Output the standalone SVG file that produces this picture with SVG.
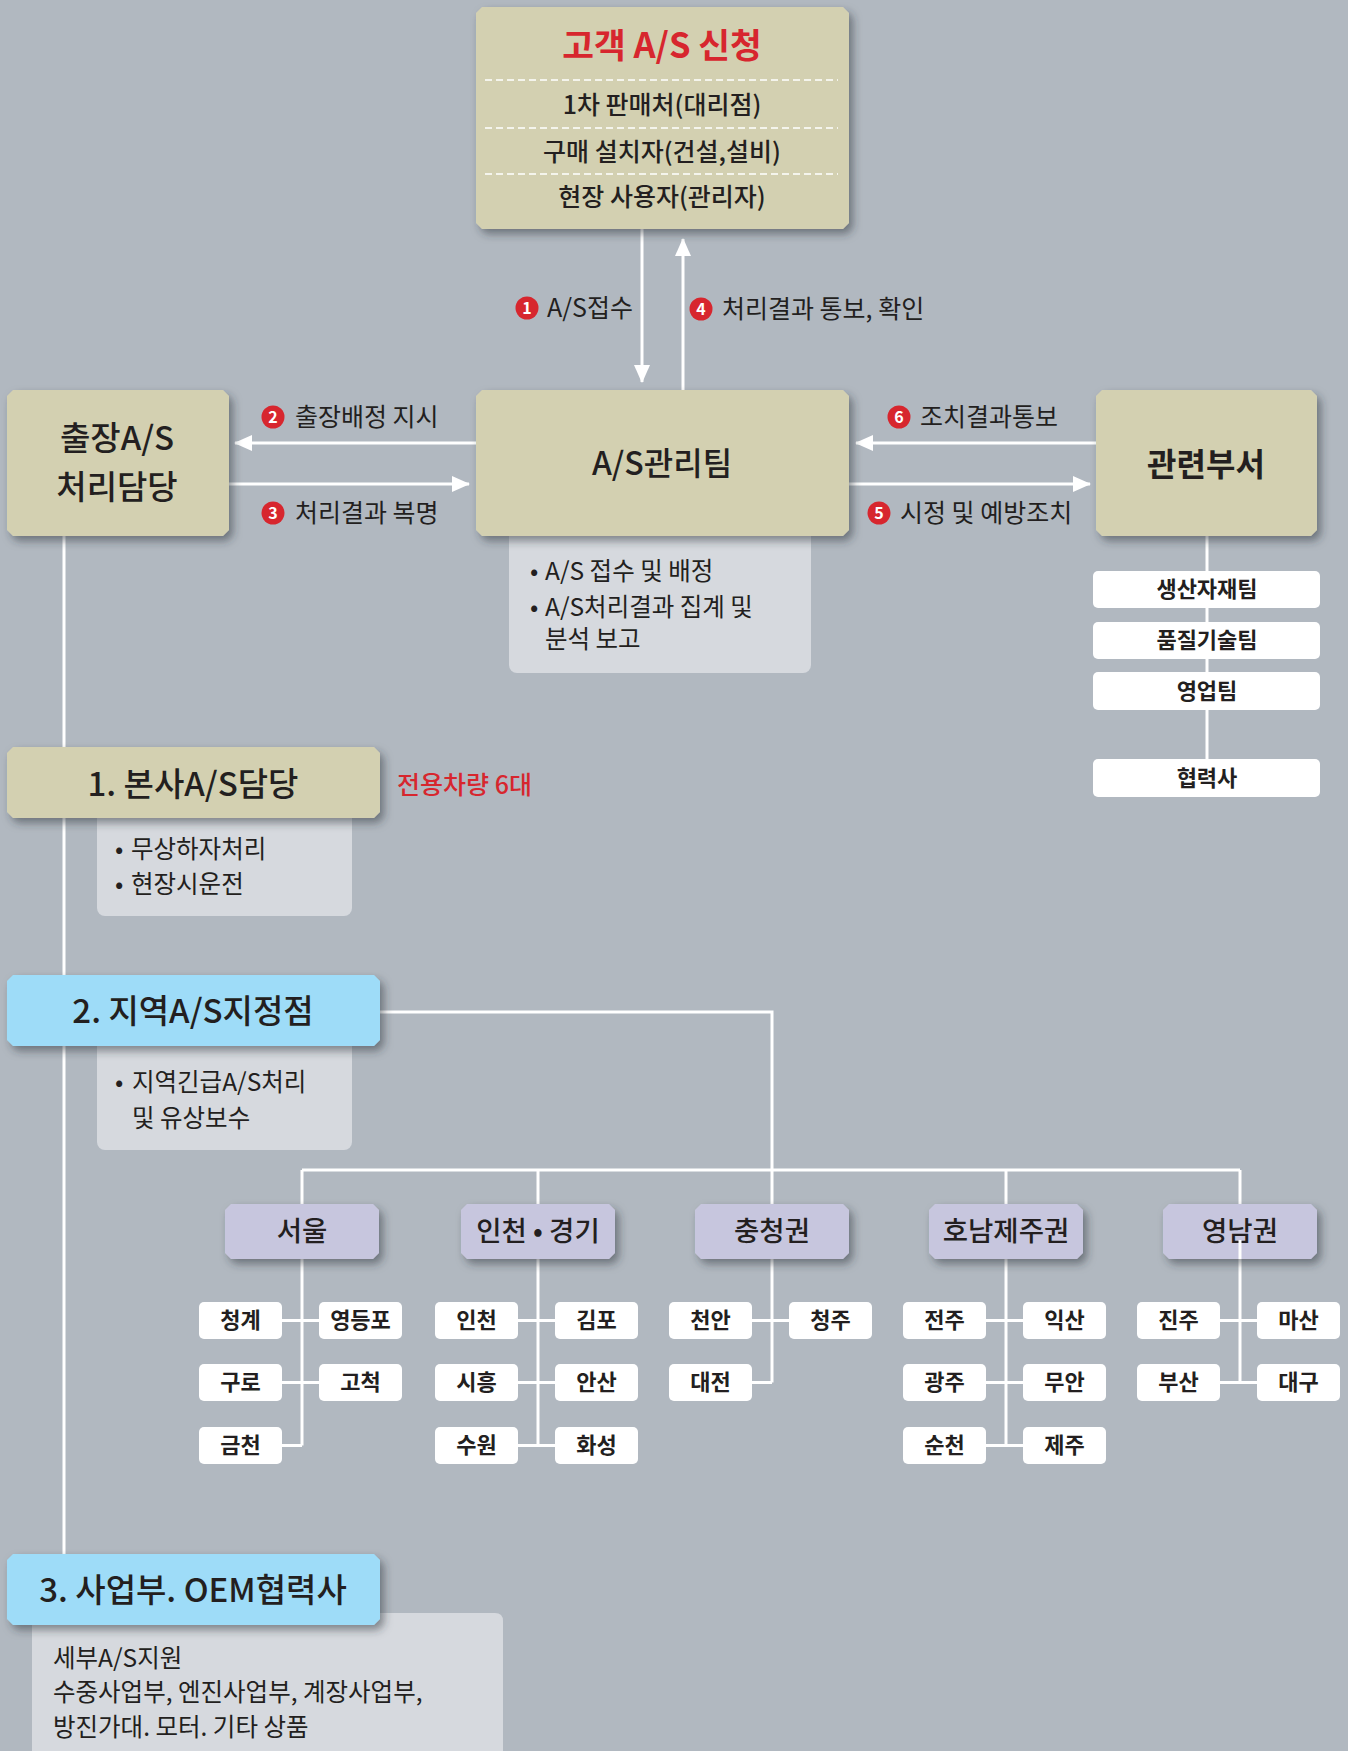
<svg xmlns="http://www.w3.org/2000/svg" width="1348" height="1751" viewBox="0 0 1348 1751">
<style>
text{font-family:"Noto Sans CJK KR","Noto Sans",sans-serif;fill:#231f20}
.hd{font-size:33px;font-weight:500;text-anchor:middle}
.hm{font-size:32px;font-weight:500;text-anchor:middle}
.hb{font-size:32px;font-weight:700;text-anchor:middle}
.lbl{font-size:25px}
.num{font-size:16px;font-weight:700;fill:#fff;text-anchor:middle}
.note{font-size:24.5px}
.sub{font-size:22px;font-weight:700;text-anchor:middle}
.reg{font-size:27.5px;font-weight:500;text-anchor:middle}
.top{font-size:25px;font-weight:500;text-anchor:middle}
.beige{fill:#d3d0b1;filter:url(#sh)}
.blue{fill:#9edcf8;filter:url(#sh)}
.lav{fill:#c7c6de;filter:url(#sh)}
.gnote{fill:#d6d9de}
.wbox{fill:#fff}
.ln{stroke:#fff;stroke-width:3;fill:none}
.dash{stroke:#fff;stroke-width:1.6;stroke-dasharray:7 4}
.circ{fill:#d7262e}
</style>
<defs>
<filter id="sh" x="-10%" y="-15%" width="125%" height="150%">
<feDropShadow dx="4" dy="5" stdDeviation="4" flood-color="#2a2f36" flood-opacity="0.5"/>
</filter>
<marker id="ah" markerUnits="userSpaceOnUse" markerWidth="18" markerHeight="16" refX="17" refY="8" orient="auto">
<path d="M0,0 L18,8 L0,16 Z" fill="#fff"/>
</marker>
</defs>
<rect x="0" y="0" width="1348" height="1751" fill="#b1b8c0"/>

<g id="connectors">
<line class="ln" x1="642" y1="229" x2="642" y2="382" marker-end="url(#ah)"/>
<line class="ln" x1="683" y1="390" x2="683" y2="239" marker-end="url(#ah)"/>
<line class="ln" x1="476" y1="443" x2="235" y2="443" marker-end="url(#ah)"/>
<line class="ln" x1="229" y1="484" x2="469" y2="484" marker-end="url(#ah)"/>
<line class="ln" x1="1096" y1="443" x2="856" y2="443" marker-end="url(#ah)"/>
<line class="ln" x1="849" y1="484" x2="1090" y2="484" marker-end="url(#ah)"/>
<line class="ln" x1="1207" y1="536" x2="1207" y2="759"/>
<line class="ln" x1="64" y1="536" x2="64" y2="1554"/>
<polyline class="ln" points="380,1012 772,1012 772,1204"/>
<line class="ln" x1="302" y1="1170" x2="1240" y2="1170"/>
<line class="ln" x1="302" y1="1170" x2="302" y2="1204"/>
<line class="ln" x1="538" y1="1170" x2="538" y2="1204"/>
<line class="ln" x1="1006" y1="1170" x2="1006" y2="1204"/>
<line class="ln" x1="1240" y1="1170" x2="1240" y2="1204"/>
<line class="ln" x1="302" y1="1259" x2="302" y2="1445.5"/>
<line class="ln" x1="282" y1="1320.5" x2="319" y2="1320.5"/>
<line class="ln" x1="282" y1="1382.5" x2="319" y2="1382.5"/>
<line class="ln" x1="282" y1="1445.5" x2="302" y2="1445.5"/>
<line class="ln" x1="538" y1="1259" x2="538" y2="1445.5"/>
<line class="ln" x1="518" y1="1320.5" x2="555" y2="1320.5"/>
<line class="ln" x1="518" y1="1382.5" x2="555" y2="1382.5"/>
<line class="ln" x1="518" y1="1445.5" x2="555" y2="1445.5"/>
<line class="ln" x1="772" y1="1259" x2="772" y2="1382.5"/>
<line class="ln" x1="752" y1="1320.5" x2="789" y2="1320.5"/>
<line class="ln" x1="752" y1="1382.5" x2="772" y2="1382.5"/>
<line class="ln" x1="1006" y1="1259" x2="1006" y2="1445.5"/>
<line class="ln" x1="986" y1="1320.5" x2="1023" y2="1320.5"/>
<line class="ln" x1="986" y1="1382.5" x2="1023" y2="1382.5"/>
<line class="ln" x1="986" y1="1445.5" x2="1023" y2="1445.5"/>
<line class="ln" x1="1240" y1="1259" x2="1240" y2="1382.5"/>
<line class="ln" x1="1220" y1="1320.5" x2="1257" y2="1320.5"/>
<line class="ln" x1="1220" y1="1382.5" x2="1257" y2="1382.5"/>
</g>

<g id="labels">
<g id="lbl1"><circle class="circ" cx="527" cy="308" r="11.5"/><text class="num" x="527" y="314">1</text><text class="lbl" x="547" y="317">A/S접수</text></g>
<g id="lbl4"><circle class="circ" cx="701" cy="309" r="11.5"/><text class="num" x="701" y="315">4</text><text class="lbl" x="722" y="318">처리결과 통보, 확인</text></g>
<g id="lbl2"><circle class="circ" cx="273" cy="417" r="11.5"/><text class="num" x="273" y="423">2</text><text class="lbl" x="295" y="426">출장배정 지시</text></g>
<g id="lbl3"><circle class="circ" cx="273" cy="513" r="11.5"/><text class="num" x="273" y="519">3</text><text class="lbl" x="295" y="522">처리결과 복명</text></g>
<g id="lbl6"><circle class="circ" cx="899" cy="417" r="11.5"/><text class="num" x="899" y="423">6</text><text class="lbl" x="920" y="426">조치결과통보</text></g>
<g id="lbl5"><circle class="circ" cx="879" cy="513" r="11.5"/><text class="num" x="879" y="519">5</text><text class="lbl" x="900" y="522">시정 및 예방조치</text></g>
</g>

<g id="node-customer">
<path class="beige" d="M482,7 H843 L849,13 V223 L843,229 H482 L476,223 V13 Z"/>
<text x="662" y="58" style="font-size:34.5px;font-weight:700;fill:#d7262e;text-anchor:middle">고객 A/S 신청</text>
<line class="dash" x1="485" y1="80" x2="838" y2="80"/>
<line class="dash" x1="485" y1="128" x2="838" y2="128"/>
<line class="dash" x1="485" y1="174" x2="838" y2="174"/>
<text class="top" x="662" y="114">1차 판매처(대리점)</text>
<text class="top" x="662" y="161">구매 설치자(건설,설비)</text>
<text class="top" x="662" y="206">현장 사용자(관리자)</text>
</g>

<g id="node-field">
<path class="beige" d="M13,390 H223 L229,396 V530 L223,536 H13 L7,530 V396 Z"/>
<text class="hd" x="117" y="450">출장A/S</text>
<text class="hd" x="117" y="499">처리담당</text>
</g>

<g id="node-asteam">
<rect class="gnote" x="509" y="510" width="302" height="163" rx="8"/>
<path class="beige" d="M482,390 H843 L849,396 V530 L843,536 H482 L476,530 V396 Z"/>
<text class="hm" x="662" y="475">A/S관리팀</text>
<text class="note" x="530" y="580">•</text><text class="note" x="545" y="580">A/S 접수 및 배정</text>
<text class="note" x="530" y="616">•</text><text class="note" x="545" y="616">A/S처리결과 집계 및</text>
<text class="note" x="545" y="648">분석 보고</text>
</g>

<g id="node-dept">
<path class="beige" d="M1102,390 H1311 L1317,396 V530 L1311,536 H1102 L1096,530 V396 Z"/>
<text class="hb" x="1206" y="476">관련부서</text>
</g>

<g id="node-dept-subs">
<rect class="wbox" x="1093" y="571" width="227" height="37" rx="5"/>
<text class="sub" x="1207" y="597">생산자재팀</text>
<rect class="wbox" x="1093" y="622" width="227" height="37" rx="5"/>
<text class="sub" x="1207" y="648">품질기술팀</text>
<rect class="wbox" x="1093" y="672" width="227" height="38" rx="5"/>
<text class="sub" x="1207" y="699">영업팀</text>
<rect class="wbox" x="1093" y="759" width="227" height="38" rx="5"/>
<text class="sub" x="1207" y="786">협력사</text>
</g>

<g id="node-hq">
<rect class="gnote" x="97" y="800" width="255" height="116" rx="8"/>
<path class="beige" d="M13,747 H374 L380,753 V812 L374,818 H13 L7,812 V753 Z"/>
<text class="hd" x="193" y="796">1. 본사A/S담당</text>
<text x="397" y="794" style="font-size:25px;font-weight:500;fill:#d7262e">전용차량 6대</text>
<text class="note" x="115" y="858">•</text><text class="note" x="131" y="858">무상하자처리</text>
<text class="note" x="115" y="893">•</text><text class="note" x="131" y="893">현장시운전</text>
</g>

<g id="node-region-center">
<rect class="gnote" x="97" y="1030" width="255" height="120" rx="8"/>
<path class="blue" d="M13,975 H374 L380,981 V1040 L374,1046 H13 L7,1040 V981 Z"/>
<text class="hd" x="193" y="1023">2. 지역A/S지정점</text>
<text class="note" x="115" y="1091">•</text><text class="note" x="132" y="1091">지역긴급A/S처리</text>
<text class="note" x="132" y="1127">및 유상보수</text>
</g>

<g id="node-seoul">
<path class="lav" d="M231,1204 H373 L379,1210 V1253 L373,1259 H231 L225,1253 V1210 Z"/>
<text class="reg" x="302" y="1241">서울</text>
<rect class="wbox" x="199" y="1302" width="83" height="37" rx="5"/><text class="sub" x="240.5" y="1328">청계</text>
<rect class="wbox" x="319" y="1302" width="83" height="37" rx="5"/><text class="sub" x="360.5" y="1328">영등포</text>
<rect class="wbox" x="199" y="1364" width="83" height="37" rx="5"/><text class="sub" x="240.5" y="1390">구로</text>
<rect class="wbox" x="319" y="1364" width="83" height="37" rx="5"/><text class="sub" x="360.5" y="1390">고척</text>
<rect class="wbox" x="199" y="1427" width="83" height="37" rx="5"/><text class="sub" x="240.5" y="1453">금천</text>
</g>

<g id="node-incheon">
<path class="lav" d="M467,1204 H609 L615,1210 V1253 L609,1259 H467 L461,1253 V1210 Z"/>
<text class="reg" x="538" y="1241">인천 • 경기</text>
<rect class="wbox" x="435" y="1302" width="83" height="37" rx="5"/><text class="sub" x="476.5" y="1328">인천</text>
<rect class="wbox" x="555" y="1302" width="83" height="37" rx="5"/><text class="sub" x="596.5" y="1328">김포</text>
<rect class="wbox" x="435" y="1364" width="83" height="37" rx="5"/><text class="sub" x="476.5" y="1390">시흥</text>
<rect class="wbox" x="555" y="1364" width="83" height="37" rx="5"/><text class="sub" x="596.5" y="1390">안산</text>
<rect class="wbox" x="435" y="1427" width="83" height="37" rx="5"/><text class="sub" x="476.5" y="1453">수원</text>
<rect class="wbox" x="555" y="1427" width="83" height="37" rx="5"/><text class="sub" x="596.5" y="1453">화성</text>
</g>

<g id="node-chungcheong">
<path class="lav" d="M701,1204 H843 L849,1210 V1253 L843,1259 H701 L695,1253 V1210 Z"/>
<text class="reg" x="772" y="1241">충청권</text>
<rect class="wbox" x="669" y="1302" width="83" height="37" rx="5"/><text class="sub" x="710.5" y="1328">천안</text>
<rect class="wbox" x="789" y="1302" width="83" height="37" rx="5"/><text class="sub" x="830.5" y="1328">청주</text>
<rect class="wbox" x="669" y="1364" width="83" height="37" rx="5"/><text class="sub" x="710.5" y="1390">대전</text>
</g>

<g id="node-honam">
<path class="lav" d="M935,1204 H1077 L1083,1210 V1253 L1077,1259 H935 L929,1253 V1210 Z"/>
<text class="reg" x="1006" y="1241">호남제주권</text>
<rect class="wbox" x="903" y="1302" width="83" height="37" rx="5"/><text class="sub" x="944.5" y="1328">전주</text>
<rect class="wbox" x="1023" y="1302" width="83" height="37" rx="5"/><text class="sub" x="1064.5" y="1328">익산</text>
<rect class="wbox" x="903" y="1364" width="83" height="37" rx="5"/><text class="sub" x="944.5" y="1390">광주</text>
<rect class="wbox" x="1023" y="1364" width="83" height="37" rx="5"/><text class="sub" x="1064.5" y="1390">무안</text>
<rect class="wbox" x="903" y="1427" width="83" height="37" rx="5"/><text class="sub" x="944.5" y="1453">순천</text>
<rect class="wbox" x="1023" y="1427" width="83" height="37" rx="5"/><text class="sub" x="1064.5" y="1453">제주</text>
</g>

<g id="node-yeongnam">
<path class="lav" d="M1169,1204 H1311 L1317,1210 V1253 L1311,1259 H1169 L1163,1253 V1210 Z"/>
<text class="reg" x="1240" y="1241">영남권</text>
<rect class="wbox" x="1137" y="1302" width="83" height="37" rx="5"/><text class="sub" x="1178.5" y="1328">진주</text>
<rect class="wbox" x="1257" y="1302" width="83" height="37" rx="5"/><text class="sub" x="1298.5" y="1328">마산</text>
<rect class="wbox" x="1137" y="1364" width="83" height="37" rx="5"/><text class="sub" x="1178.5" y="1390">부산</text>
<rect class="wbox" x="1257" y="1364" width="83" height="37" rx="5"/><text class="sub" x="1298.5" y="1390">대구</text>
</g>

<g id="node-business">
<path class="gnote" d="M32,1613 H495 Q503,1613 503,1621 V1751 H32 Z"/>
<path class="blue" d="M13,1554 H374 L380,1560 V1619 L374,1625 H13 L7,1619 V1560 Z"/>
<text class="hd" x="193" y="1602">3. 사업부. OEM협력사</text>
<text class="note" x="53" y="1667">세부A/S지원</text>
<text class="note" x="53" y="1701">수중사업부, 엔진사업부, 계장사업부,</text>
<text class="note" x="53" y="1736">방진가대. 모터. 기타 상품</text>
</g>

<g id="connectors-overlay">
<line class="ln" x1="1240" y1="1240" x2="1240" y2="1259"/>
</g>
</svg>
